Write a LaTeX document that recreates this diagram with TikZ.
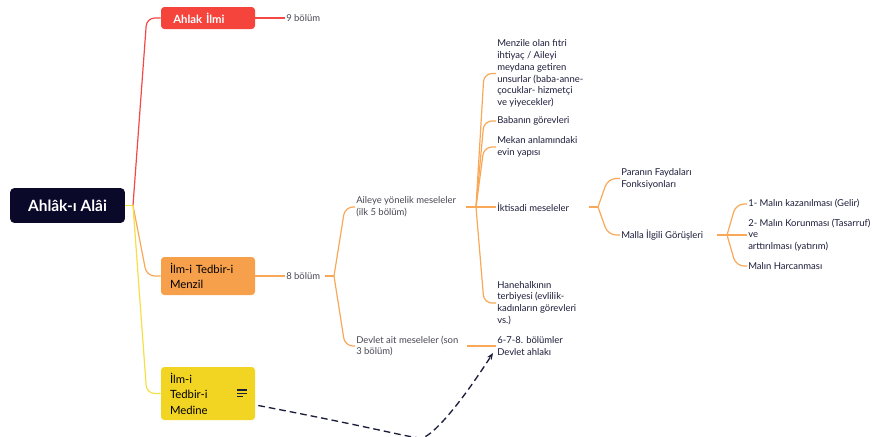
\documentclass[tikz,border=0pt]{standalone}
\usepackage{fontspec}
\setmainfont{Lato}
\usetikzlibrary{calc,arrows.meta}

\definecolor{rootc}{RGB}{10,9,42}
\definecolor{redc}{RGB}{245,68,60}
\definecolor{orc}{RGB}{246,160,76}
\definecolor{yelc}{RGB}{242,212,34}
\definecolor{redln}{RGB}{243,72,70}
\definecolor{orln}{RGB}{249,168,88}
\definecolor{yelln}{RGB}{246,222,70}
\definecolor{leaft}{RGB}{28,28,58}
\definecolor{grayt}{RGB}{72,72,84}
\definecolor{dashc}{RGB}{27,30,58}

\tikzset{
  topic/.style={rounded corners=2.5pt, minimum width=70.5pt, text width=57pt, align=left,
    inner ysep=0pt, font=\fontsize{8.5}{11.6}\selectfont},
  leaf/.style={anchor=west, inner sep=0.75pt, align=left, text=leaft,
    font=\fontsize{7.1}{8.8}\selectfont},
  sub/.style={leaf, text=grayt},
  branch/.style={line width=0.9pt, rounded corners=6pt},
}

\begin{document}
\begin{tikzpicture}[x=0.75pt,y=0.75pt,yscale=-1,xscale=1]
    \clip (0,0) rectangle (877,436);
    
    % Topic Nodes
    \node [fill=rootc, rounded corners=3pt, minimum width=86pt, minimum height=26pt, text=white,
      font=\fontsize{11.6}{13}\selectfont\bfseries] (root) at (67.5,205.5) {Ahlâk-ı Alâi};
    \node [topic, fill=redc, minimum height=16.5pt, text=white, font=\fontsize{8.5}{11.6}\selectfont\bfseries] (ahlak) at (208,18) {\hspace*{2.5pt}Ahlak İlmi};
    \node [topic, fill=orc, minimum height=28.5pt] (menzil) at (208,276) {İlm-i Tedbir-i\\Menzil};
    \node [topic, fill=yelc, minimum height=39.75pt] (medine) at (208,393.5) {İlm-i\\Tedbir-i\\Medine};
    % notes icon
    \draw [dashc, line width=0.8pt] (237,390) -- (247,390) (237,393.3) -- (247,393.3) (237,396.7) -- (243,396.7);
    
    % Text Node
    \node [sub] (bol9) at (285,18) {9 bölüm};
    % Text Node
    \node [sub] (bol8) at (285,276) {8 bölüm};
    % Text Node
    \node [sub] (aile) at (355,207) {Aileye yönelik meseleler\\(ilk 5 bölüm)};
    % Text Node
    \node [sub] (devlet) at (355,346) {Devlet ait meseleler (son\\3 bölüm)};
    % Text Node
    \node [leaf] (menz) at (496,73.5) {Menzile olan fıtri\\ihtiyaç / Aileyi\\meydana getiren\\unsurlar (baba-anne-\\çocuklar- hizmetçi\\ve yiyecekler)};
    % Text Node
    \node [leaf] (baba) at (496,121) {Babanın görevleri};
    % Text Node
    \node [leaf] (mekan) at (496,147) {Mekan anlamındaki\\evin yapısı};
    % Text Node
    \node [leaf] (iktisadi) at (496,207) {İktisadi meseleler};
    % Text Node
    \node [leaf] (hane) at (496,303) {Hanehalkının\\terbiyesi (evlilik-\\kadınların görevleri\\vs.)};
    % Text Node
    \node [leaf] (devah) at (496,346) {6-7-8. bölümler\\Devlet ahlakı};
    % Text Node
    \node [leaf] (paranin) at (620,178.5) {Paranın Faydaları\\Fonksiyonları};
    % Text Node
    \node [leaf] (malla) at (620,235) {Malla İlgili Görüşleri};
    % Text Node
    \node [leaf] (mal1) at (747,204) {1- Malın kazanılması (Gelir)};
    % Text Node
    \node [leaf] (mal2) at (747,235) {2- Malın Korunması (Tasarruf)\\ve\\arttırılması (yatırım)};
    % Text Node
    \node [leaf] (mal3) at (747,266) {Malın Harcanması};
    
    % junctions
    \coordinate (rj) at (133,205.5);
    \coordinate (j8s) at (325,276);
    \coordinate (j8) at (334,276);
    \coordinate (jas) at (466,207);
    \coordinate (ja) at (476,207);
    \coordinate (dvs) at (467,346);
    \coordinate (jis) at (589,207);
    \coordinate (ji) at (598,207);
    \coordinate (jms) at (717,235);
    \coordinate (jm) at (727,235);
    
    %Root branches
    \draw [branch, redln] (rj) -- ($(ahlak.west)+(-14,0)$) -- (ahlak.west);
    \draw [branch, redln] (ahlak.east) -- (bol9.west);
    \draw [branch, orln] (rj) -- ($(menzil.west)+(-14,0)$) -- (menzil.west);
    \draw [branch, orln] (menzil.east) -- (bol8.west);
    \draw [branch, yelln] (rj) -- ($(medine.west)+(-14,0)$) -- (medine.west);
    \draw [branch, yelln] (root.east) -- (rj);
    
    %Menzil branches
    \draw [branch, orln] (j8s) -- (j8);
    \draw [branch, orln] (j8) -- ($(aile.west)+(-10,0)$) -- (aile.west);
    \draw [branch, orln] (j8) -- ($(devlet.west)+(-10,0)$) -- (devlet.west);
    \draw [branch, orln] (jas) -- (ja);
    \foreach \n in {menz,baba,mekan,hane}
      \draw [branch, orln] (ja) -- ($(\n.west)+(-12,0)$) -- (\n.west);
    \draw [branch, orln] (ja) -- (iktisadi.west);
    \draw [branch, orln] (dvs) -- (devah.west);
    
    %Iktisadi branches
    \draw [branch, orln] (jis) -- (ji);
    \draw [branch, orln] (ji) -- ($(paranin.west)+(-12,0)$) -- (paranin.west);
    \draw [branch, orln] (ji) -- ($(malla.west)+(-12,0)$) -- (malla.west);
    \draw [branch, orln] (jms) -- (jm);
    \draw [branch, orln] (jm) -- ($(mal1.west)+(-11,0)$) -- (mal1.west);
    \draw [branch, orln] (jm) -- (mal2.west);
    \draw [branch, orln] (jm) -- ($(mal3.west)+(-11,0)$) -- (mal3.west);
    
    %Dashed relation (dips below the picture's lower edge)
    \coordinate (ds) at ($(medine.east)+(3,12)$);
    \coordinate (dm) at (421,438);
    \coordinate (de) at ($(devah.west)+(-3,7)$);
    \draw [dashc, line width=1pt, dash pattern=on 5pt off 3pt, -{Stealth[length=5pt,width=4pt]}]
      (ds) .. controls +(120,23) and +(-10,0) .. (dm) .. controls +(8,0) and +(-40,62) .. (de);
\end{tikzpicture}
\end{document}
